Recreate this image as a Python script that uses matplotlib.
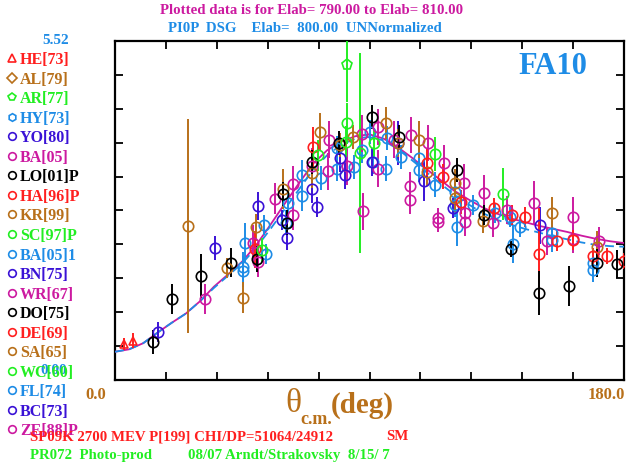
import matplotlib
matplotlib.use("Agg")
import matplotlib.pyplot as plt

# ---- colours used by the SAID style plot
RED = '#ff1f1f'
BROWN = '#b8701a'
GREEN = '#22ee22'
LBLUE = '#1e8ce6'
PURPLE = '#3a12d6'
MAGENTA = '#cc1aa0'
BLACK = '#000000'

# ---- curves (theta c.m. in deg, dsig/dOmega)
curve_theta = [0, 5, 10, 15, 20, 25, 30, 35, 40, 45, 50, 55, 60, 65, 70, 75, 80, 85, 90,
               95, 100, 105, 110, 115, 120, 125, 130, 135, 140, 145, 150, 155, 160, 165,
               170, 175, 180]
sm_curve = [0.46, 0.50, 0.60, 0.77, 0.93, 1.08, 1.28, 1.52, 1.72, 1.93, 2.20, 2.53, 2.87,
            3.20, 3.52, 3.74, 3.88, 3.97, 4.00, 3.93, 3.79, 3.62, 3.44, 3.26, 3.08, 2.94,
            2.81, 2.71, 2.63, 2.57, 2.51, 2.46, 2.41, 2.35, 2.30, 2.26, 2.23]
fa10_curve = [0.46, 0.50, 0.60, 0.77, 0.93, 1.08, 1.28, 1.50, 1.70, 1.90, 2.16, 2.46, 2.78,
              3.10, 3.42, 3.66, 3.83, 3.93, 3.96, 3.90, 3.76, 3.58, 3.39, 3.20, 3.02, 2.86,
              2.72, 2.61, 2.53, 2.46, 2.40, 2.34, 2.29, 2.24, 2.20, 2.18, 2.17]

# ---- data (theta, value, error) grouped by experiment colour
he_th = [3.2, 6.4]
he_v = [0.59, 0.64]
he_e = [0.10, 0.12]

ar_th = [82.0]
ar_v = [5.13]
ar_e = [0.60]

blk_th = [13.4, 20.2, 30.4, 41.0, 50.2, 60.8, 59.4, 69.7, 79.2, 90.9, 100.4, 120.9, 130.5,
          140.0, 149.9, 160.5, 170.4, 177.5]
blk_v = [0.62, 1.32, 1.69, 1.91, 1.97, 2.56, 3.03, 3.55, 3.86, 4.28, 3.96, 3.42, 2.69,
         2.13, 1.42, 1.53, 1.91, 1.89]
blk_e = [0.20, 0.24, 0.36, 0.24, 0.21, 0.20, 0.20, 0.20, 0.20, 0.20, 0.20, 0.20, 0.16,
         0.13, 0.36, 0.33, 0.23, 0.23]

red_th = [49.5, 70.0, 110.3, 116.0, 122.4, 134.0, 140.4, 145.0, 149.9, 156.3, 162.0,
          169.0, 174.0, 180.0]
red_v = [2.13, 3.79, 3.53, 3.31, 2.90, 2.80, 2.69, 2.65, 2.05, 2.26, 2.28, 2.02, 2.02, 1.94]
red_e = [0.30, 0.33, 0.23, 0.20, 0.20, 0.16, 0.16, 0.16, 0.75, 0.16, 0.16, 0.13, 0.13, 0.13]

brn_th = [25.8, 39.6, 45.3, 49.9, 59.4, 69.7, 72.5, 79.6, 84.2, 95.8, 100.1, 107.5, 110.3,
          120.2, 120.2, 130.1, 154.5, 170.4]
brn_v = [2.51, 1.82, 1.34, 2.49, 3.11, 3.37, 4.04, 3.83, 3.96, 4.18, 3.86, 3.91, 3.39,
         3.21, 2.96, 2.59, 2.72, 2.17]
brn_e = [1.74, 0.16, 0.25, 0.22, 0.33, 0.25, 0.30, 0.20, 0.20, 0.26, 0.23, 0.30, 0.23,
         0.23, 0.23, 0.20, 0.26, 0.26]

grn_th = [82.0, 86.6, 71.8, 81.7, 91.6, 52.0, 113.2, 137.2]
grn_v = [4.18, 3.70, 3.66, 3.88, 3.86, 2.12, 3.68, 3.03]
grn_e = [0.33, 1.63, 0.25, 0.25, 0.25, 0.20, 0.28, 0.42]

blu_th = [46.0, 45.3, 45.3, 52.7, 53.4, 60.5, 61.2, 66.1, 66.1, 72.8, 78.5, 78.5, 84.5,
          87.3, 90.2, 91.2, 95.8, 96.2, 101.1, 107.5, 107.5, 113.2, 120.2, 120.2, 126.6,
          121.0, 134.4, 139.7, 140.7, 143.2, 154.5, 154.5, 169.0, 169.0]
blu_v = [2.23, 1.84, 1.77, 2.52, 2.05, 2.56, 2.88, 3.34, 3.00, 3.29, 3.44, 3.78, 3.47,
         3.74, 4.04, 3.55, 3.44, 3.94, 3.63, 3.61, 3.42, 3.18, 3.06, 2.85, 2.85,
         2.49, 2.72, 2.65, 2.21, 2.49, 2.39, 2.28, 1.91, 1.79]
blu_e = [0.33, 0.25, 0.25, 0.16, 0.16, 0.20, 0.20, 0.25, 0.25, 0.20, 0.20, 0.20, 0.20,
         0.20, 0.20, 0.20, 0.20, 0.20, 0.20, 0.20, 0.20, 0.20, 0.20, 0.20, 0.16,
         0.30, 0.16, 0.16, 0.30, 0.16, 0.20, 0.20, 0.20, 0.20]

pur_th = [15.2, 35.4, 50.6, 59.1, 60.8, 71.4, 69.7, 79.6, 81.3, 90.9, 100.1, 109.3, 119.5,
          150.3]
pur_v = [0.78, 2.15, 2.83, 2.60, 2.31, 2.82, 3.11, 3.61, 3.34, 3.55, 3.86, 3.24, 2.80, 2.52]
pur_e = [0.16, 0.20, 0.23, 0.16, 0.20, 0.16, 0.23, 0.23, 0.23, 0.23, 0.36, 0.33, 0.16, 0.30]

mag_th = [31.8, 48.8, 50.6, 62.9, 56.6, 62.9, 69.7, 75.7, 75.3, 82.0, 87.3, 87.7, 93.0,
          93.0, 98.7, 104.7, 104.3, 104.3, 110.7, 116.3, 123.4, 130.5, 114.2, 114.2,
          123.8, 123.8, 133.7, 138.6, 148.2, 152.8, 162.0, 162.0, 171.2]
mag_v = [1.32, 2.23, 1.92, 2.69, 2.95, 3.19, 3.48, 3.91, 3.40, 3.48, 4.01, 2.75, 4.12,
         3.44, 3.91, 3.99, 3.16, 2.93, 3.86, 3.53, 3.21, 3.04, 2.64, 2.57,
         2.72, 2.57, 2.56, 2.77, 2.88, 2.26, 2.65, 2.30, 2.26]
mag_e = [0.25, 0.30, 0.25, 0.25, 0.25, 0.30, 0.30, 0.30, 0.30, 0.30, 0.30, 0.30, 0.30,
         0.30, 0.30, 0.30, 0.23, 0.23, 0.30, 0.30, 0.30, 0.30, 0.16, 0.16,
         0.23, 0.23, 0.23, 0.23, 0.36, 0.23, 0.33, 0.23, 0.23]

# ---- legend entries (label, colour, marker)
leg_names = ['HE[73]', 'AL[79]', 'AR[77]', 'HY[73]', 'YO[80]', 'BA[05]', 'LO[01]P',
             'HA[96]P', 'KR[99]', 'SC[97]P', 'BA[05]1', 'BN[75]', 'WR[67]', 'DO[75]',
             'DE[69]', 'SA[65]', 'WC[60]', 'FL[74]', 'BC[73]', 'ZE[88]P']
leg_colors = [RED, BROWN, GREEN, LBLUE, PURPLE, MAGENTA, BLACK,
              RED, BROWN, GREEN, LBLUE, PURPLE, MAGENTA, BLACK,
              RED, BROWN, GREEN, LBLUE, PURPLE, MAGENTA]
leg_markers = ['^', 'D', 'p', 'h'] + ['o'] * 16

YMAX = 5.52
FONT = 'Liberation Serif'
plt.rcParams['font.family'] = FONT
plt.rcParams['font.weight'] = 'bold'

fig = plt.figure(figsize=(6.28, 4.62), dpi=100)
ax = fig.add_axes([115 / 628, 1 - 380 / 462, 509 / 628, 339 / 462])

# curves
ax.plot(curve_theta, sm_curve, color=MAGENTA, lw=1.3, zorder=3)
ax.plot(curve_theta, fa10_curve, color=LBLUE, lw=1.3, ls=(0, (5, 3)), zorder=3)


def draw_set(th, v, e, col, mk='o', ms=7.5):
    ax.errorbar(th, v, yerr=e, fmt=mk, ms=ms, mfc='none', mec=col, mew=1.2,
                ecolor=col, elinewidth=1.4, capsize=0, zorder=4)


draw_set(blu_th, blu_v, blu_e, LBLUE)
draw_set(mag_th, mag_v, mag_e, MAGENTA)
draw_set(pur_th, pur_v, pur_e, PURPLE)
draw_set(brn_th, brn_v, brn_e, BROWN)
draw_set(red_th, red_v, red_e, RED)
draw_set(blk_th, blk_v, blk_e, BLACK)
draw_set(grn_th, grn_v, grn_e, GREEN)
draw_set(ar_th, ar_v, ar_e, GREEN, mk='p', ms=8)
draw_set(he_th, he_v, he_e, RED, mk='^', ms=6)

ax.set_xlim(0, 180)
ax.set_ylim(0, YMAX)
ax.set_xticks([18 * i for i in range(11)])
ax.set_yticks([YMAX / 10 * i for i in range(11)])
ax.tick_params(direction='in', length=6, width=1.3, top=True, right=True,
               labelbottom=False, labelleft=False)
for sp in ax.spines.values():
    sp.set_linewidth(1.6)

ax.text(0.86, 0.925, 'FA10', transform=ax.transAxes, color=LBLUE, fontsize=22,
        fontweight='bold', ha='center', va='center')

# ---- overlay in pixel coordinates for the surrounding text
ov = fig.add_axes([0, 0, 1, 1], facecolor='none')
ov.set_xlim(0, 628)
ov.set_ylim(462, 0)
ov.axis('off')

ov.text(312, 10, 'Plotted data is for Elab= 790.00 to Elab= 810.00', color=MAGENTA,
        fontsize=10.7, ha='center', va='center')
ov.text(305, 28, 'PI0P  DSG    Elab=  800.00  UNNormalized', color=LBLUE,
        fontsize=10.7, ha='center', va='center')
ov.text(69, 41, '5.52', color=LBLUE, fontsize=11, ha='right', va='center')
ov.text(67, 370, '0.00', color=LBLUE, fontsize=11, ha='right', va='center')
ov.text(96, 395, '0.0', color=BROWN, fontsize=12, ha='center', va='center')
ov.text(606, 395, '180.0', color=BROWN, fontsize=12, ha='center', va='center')
# x axis title: theta with c.m. subscript
ov.text(293, 404, 'θ', color=BROWN, fontsize=24, fontweight='normal',
        ha='center', va='center')
ov.text(300, 420, 'c.m.', color=BROWN, fontsize=13, ha='left', va='center')
ov.text(331, 405, '(deg)', color=BROWN, fontsize=21, ha='left', va='center')

for i, (nm, col, mk) in enumerate(zip(leg_names, leg_colors, leg_markers)):
    y = 60 + i * 19.55
    ov.plot([12], [y - 2], marker=mk, ms=5.5, mfc='none', mec=col, mew=1.2,
            clip_on=False)
    ov.text(20, y, nm, color=col, fontsize=11.5, ha='left', va='center')

ov.text(30, 437, 'SP09K 2700 MEV P[199] CHI/DP=51064/24912', color=RED,
        fontsize=10.7, ha='left', va='center')
ov.text(386, 437, 'SM', color=RED, fontsize=10.7, ha='left', va='center')
ov.text(30, 455, 'PR072  Photo-prod', color=GREEN, fontsize=10.7, ha='left', va='center')
ov.text(188, 455, '08/07 Arndt/Strakovsky  8/15/ 7', color=GREEN, fontsize=10.7,
        ha='left', va='center')

fig.savefig('out.png', dpi=100)
